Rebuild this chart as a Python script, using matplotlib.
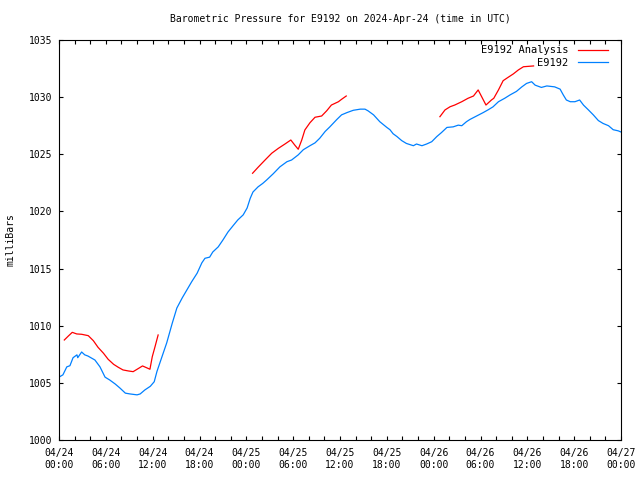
import numpy as np
import matplotlib
matplotlib.use('Agg')
import matplotlib.pyplot as plt
from matplotlib.ticker import MultipleLocator

# time in hours since 2024-04-24 00:00 UTC
obs_t = [0.0, 0.5, 1.0, 1.4, 1.8, 2.3, 2.4, 2.9, 3.3, 3.7, 4.6, 5.25, 5.9, 6.5, 7.2,
         7.8, 8.5, 9.1, 10.0, 10.4, 11.0, 11.7, 12.2, 12.55, 13.2, 13.8, 14.5, 15.1,
         15.8, 16.4, 17.0, 17.7, 18.3, 18.7, 19.3, 19.7, 20.4, 21.0, 21.65, 22.3, 22.9,
         23.6, 24.1, 24.5, 24.85, 25.5, 26.1, 26.6, 27.45, 28.3, 29.2, 29.8, 30.65,
         31.3, 32.15, 32.8, 33.4, 34.1, 34.7, 35.6, 36.2, 36.9, 37.7, 38.6, 39.2, 39.6,
         40.3, 41.1, 42.0, 42.4, 42.8, 43.3, 43.9, 44.5, 45.4, 45.8, 46.5, 47.1, 47.75,
         48.4, 49.0, 49.7, 50.5, 51.15, 51.6, 52.2, 52.65, 53.5, 54.35, 55.0, 55.6,
         56.3, 57.1, 57.8, 58.6, 59.3, 59.9, 60.55, 61.0, 61.8, 62.5, 63.5, 64.2, 64.6,
         65.0, 65.5, 66.1, 66.7, 67.2, 67.8, 68.45, 69.1, 69.7, 70.4, 71.0, 71.65, 72.0]
obs_p = [1005.5, 1005.7, 1006.4, 1006.5, 1007.2, 1007.45, 1007.2, 1007.7, 1007.45,
         1007.35, 1007.0, 1006.4, 1005.5, 1005.25, 1004.9, 1004.55, 1004.1, 1004.03,
         1003.95, 1004.03, 1004.38, 1004.7, 1005.1, 1006.0, 1007.3, 1008.5, 1010.2,
         1011.55, 1012.45, 1013.15, 1013.85, 1014.6, 1015.5, 1015.9, 1016.0, 1016.45,
         1016.9, 1017.5, 1018.2, 1018.75, 1019.25, 1019.7, 1020.3, 1021.15, 1021.7,
         1022.15, 1022.45, 1022.75, 1023.3, 1023.9, 1024.35, 1024.5, 1024.95, 1025.4,
         1025.75, 1026.0, 1026.4, 1027.0, 1027.4, 1028.05, 1028.45, 1028.65, 1028.85,
         1028.95, 1028.95, 1028.8, 1028.45, 1027.85, 1027.35, 1027.15, 1026.8, 1026.55,
         1026.2, 1025.95, 1025.75, 1025.9, 1025.75, 1025.9, 1026.1, 1026.55, 1026.9,
         1027.35, 1027.4, 1027.55, 1027.5, 1027.85, 1028.05, 1028.35, 1028.65, 1028.9,
         1029.15, 1029.6, 1029.9, 1030.2, 1030.5, 1030.9, 1031.2, 1031.35, 1031.05,
         1030.85, 1030.98, 1030.9, 1030.7, 1030.2, 1029.75, 1029.6, 1029.6, 1029.75,
         1029.3, 1028.9, 1028.45, 1027.95, 1027.7, 1027.5, 1027.15, 1027.05, 1026.95]

# analysis, gaps where no analysis available
ana_t = [0.68, 1.2, 1.7, 2.27, 2.9, 3.75, 4.4, 5.0, 5.7, 6.3, 7.0, 7.6, 8.2, 8.9, 9.5,
         10.2, 10.7, 11.2, 11.65, 11.95, 12.3, 12.7, np.nan,
         24.8, 25.5, 26.4, 27.25, 28.1, 28.95, 29.7, 30.2, 30.65, 31.1, 31.5, 32.15,
         32.8, 33.65, 34.3, 34.9, 35.8, 36.2, 36.8, np.nan,
         48.8, 49.45, 50.1, 50.7, 51.6, 52.4, 53.1, 53.7, 54.7, 55.4, 55.7, 56.3, 56.9,
         57.55, 58.2, 58.85, 59.5, 60.8]
ana_p = [1008.75, 1009.1, 1009.42, 1009.28, 1009.25, 1009.13, 1008.69, 1008.11, 1007.59,
         1007.06, 1006.62, 1006.36, 1006.13, 1006.04, 1005.98, 1006.27, 1006.48, 1006.33,
         1006.19, 1007.29, 1008.16, 1009.19, np.nan,
         1023.34, 1023.86, 1024.5, 1025.09, 1025.52, 1025.9, 1026.25, 1025.81, 1025.44,
         1026.25, 1027.13, 1027.76, 1028.24, 1028.35, 1028.81, 1029.31, 1029.6, 1029.81,
         1030.1, np.nan,
         1028.29, 1028.88, 1029.16, 1029.31, 1029.6, 1029.9, 1030.1, 1030.63, 1029.31,
         1029.75, 1029.9, 1030.63, 1031.44, 1031.74, 1032.03, 1032.38, 1032.66, 1032.73]

tick_hours = list(range(0, 73, 6))
tick_labels = ['04/24\n00:00', '04/24\n06:00', '04/24\n12:00', '04/24\n18:00',
               '04/25\n00:00', '04/25\n06:00', '04/25\n12:00', '04/25\n18:00',
               '04/26\n00:00', '04/26\n06:00', '04/26\n12:00', '04/26\n18:00',
               '04/27\n00:00']

plt.rcParams['font.family'] = ['DejaVu Sans Mono']
plt.rcParams['font.size'] = 7

fig = plt.figure(figsize=(6.4, 4.8), dpi=100)
ax = fig.add_axes([59/640, 40/480, 562/640, 400/480])

ax.plot(ana_t, ana_p, color='#ff0000', lw=0.9, label='E9192 Analysis')
ax.plot(obs_t, obs_p, color='#0080ff', lw=0.9, label='E9192')

ax.set_xlim(0, 72)
ax.set_ylim(1000, 1035)
ax.set_xticks(tick_hours)
ax.set_xticklabels(tick_labels)
ax.xaxis.set_minor_locator(MultipleLocator(2))
ax.yaxis.set_major_locator(MultipleLocator(5))
ax.tick_params(which='both', direction='in', top=True, right=True, length=3,
               width=0.8, colors='black')
ax.tick_params(axis='x', which='major', pad=6)
ax.tick_params(axis='y', which='major', pad=5)
for s in ax.spines.values():
    s.set_linewidth(0.8)

fig.text(340/640, 1 - 19/480, 'Barometric Pressure for E9192 on 2024-Apr-24 (time in UTC)',
         ha='center', va='center', fontsize=7)
fig.text(11/640, 0.5, 'milliBars', rotation=90, ha='center', va='center', fontsize=7)

ax.legend(loc='upper right', bbox_to_anchor=(1 - 6/562, 1 + 2/400), frameon=False,
          markerfirst=False, handlelength=2.9, handletextpad=0.9, borderaxespad=0.3,
          labelspacing=0.25, fontsize=7.5)

plt.savefig('out.png', dpi=100)
